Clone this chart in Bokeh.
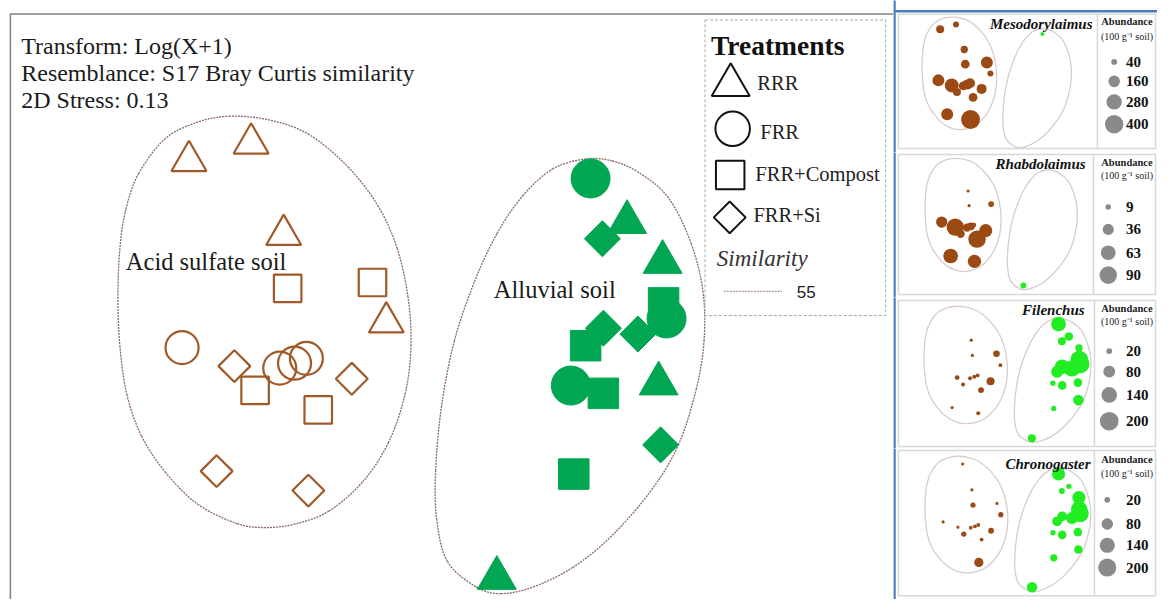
import numpy as np
from bokeh.plotting import figure
from bokeh.models import Range1d
from bokeh.layouts import row, column
from bokeh.core.properties import value
from bokeh.embed import file_html
from bokeh.resources import INLINE

# ---------------- data ----------------
soil = ["Acid sulfate soil"] * 16 + ["Alluvial soil"] * 15
treatment = ["RRR", "RRR", "RRR", "FRR+Compost", "FRR+Compost", "RRR", "FRR", "FRR+Si",
             "FRR", "FRR", "FRR", "FRR+Compost", "FRR+Si", "FRR+Compost", "FRR+Si", "FRR+Si",
             "FRR", "RRR", "FRR+Si", "RRR", "FRR+Compost", "FRR", "FRR+Si", "FRR+Si",
             "FRR+Compost", "FRR", "FRR+Compost", "RRR", "FRR+Si", "FRR+Compost", "RRR"]
nmds1 = [-2.09, -1.46, -1.13, -1.09, -0.23, -0.09, -2.16, -1.63, -1.17, -1.02, -0.90, -1.42,
         -0.44, -0.78, -1.81, -0.88,
         1.98, 2.35, 2.10, 2.71, 2.72, 2.75, 2.11, 2.46, 1.93, 1.78, 2.11, 2.67, 2.69, 1.81, 1.03]
nmds2 = [1.55, 1.73, 0.79, 0.24, 0.30, -0.11, -0.37, -0.56, -0.58, -0.53, -0.48, -0.81,
         -0.69, -1.01, -1.64, -1.84,
         1.37, 0.92, 0.75, 0.51, 0.09, -0.07, -0.17, -0.23, -0.35, -0.76, -0.84, -0.74, -1.37,
         -1.67, -2.74]

# abundance (100 g-1 soil) of four genera per sample
genera = ["Mesodorylaimus", "Rhabdolaimus", "Filenchus", "Chronogaster"]
mesodorylaimus = [75, 42, 63, 89, 170, 42, 170, 230, 90, 118, 118, 75, 118, 90, 170, 420,
                  19, 0, 0, 0, 0, 0, 0, 0, 0, 0, 0, 0, 0, 0, 0]
rhabdolaimus = [0, 0, 3, 3, 10, 0, 37, 88, 20, 18, 6, 20, 50, 88, 63, 52,
                0, 0, 0, 0, 0, 0, 0, 0, 0, 0, 0, 0, 0, 0, 10]
filenchus = [0, 0, 6, 6, 25, 9, 0, 13, 9, 9, 8, 9, 37, 20, 6, 9,
             124, 43, 37, 31, 180, 200, 124, 150, 83, 16, 43, 43, 65, 16, 37]
chronogaster = [0, 6, 6, 17, 6, 17, 6, 6, 9, 9, 9, 17, 21, 9, 0, 52,
                105, 17, 21, 105, 165, 185, 59, 90, 59, 17, 45, 45, 45, 32, 67]
legend_values = [[40, 160, 280, 400], [9, 36, 63, 90], [20, 80, 140, 200], [20, 80, 140, 200]]

# 55 % similarity contours: traced nodes (NMDS units) of the two closed curves
contour_soil = ["Acid sulfate soil", "Alluvial soil"]
acid_contour_x = [-1.67, -2.00, -2.33, -2.60, -2.73, -2.79, -2.81, -2.79, -2.72, -2.57, -2.33,
                  -2.00, -1.60, -1.30, -1.00, -0.67, -0.33, -0.07, 0.10, 0.16, 0.13, 0.02,
                  -0.17, -0.47, -0.87, -1.27]
acid_contour_y = [2.01, 1.95, 1.78, 1.42, 1.05, 0.65, 0.15, -0.35, -0.85, -1.28, -1.65,
                  -1.98, -2.18, -2.22, -2.18, -2.05, -1.75, -1.35, -0.85, -0.35, 0.15, 0.65,
                  1.08, 1.48, 1.82, 1.97]
alluvial_contour_x = [1.93, 1.60, 1.30, 1.03, 0.80, 0.60, 0.47, 0.41, 0.42, 0.53, 0.82, 1.07,
                      1.40, 1.80, 2.20, 2.60, 2.87, 3.05, 3.13, 3.12, 3.00, 2.77, 2.47, 2.20]
alluvial_contour_y = [1.57, 1.47, 1.20, 0.80, 0.30, -0.30, -0.97, -1.63, -2.13, -2.57, -2.83,
                      -2.90, -2.83, -2.63, -2.30, -1.83, -1.37, -0.80, -0.30, 0.20, 0.70, 1.17,
                      1.43, 1.55]
label_x = [-2.73, 1.00]
label_y = [0.52, 0.23]

treatments = ["RRR", "FRR", "FRR+Compost", "FRR+Si"]
text_lines = ["Transform: Log(X+1)", "Resemblance: S17 Bray Curtis similarity", "2D Stress: 0.13"]

# ---------------- styles ----------------
BROWN = "#a05a28"
GREEN = "#00a651"
BUB_BROWN = "#9a4a12"
BUB_GREEN = "#22ec22"
SERIF = value("Liberation Serif")
marker_of = {"RRR": "triangle", "FRR": "circle", "FRR+Compost": "square", "FRR+Si": "square"}
angle_of = {"RRR": 0.0, "FRR": 0.0, "FRR+Compost": 0.0, "FRR+Si": np.pi / 4}
size_hollow = {"RRR": 35, "FRR": 33, "FRR+Compost": 27.5, "FRR+Si": 22.5}
size_filled = {"RRR": 39, "FRR": 39, "FRR+Compost": 30.5, "FRR+Si": 25.5}

REF_W, REF_H = 1173, 616      # reference canvas (pixels)
TOT_W, TOT_H = 1157, 599      # page area
W_MAIN = 893
W_SIDE = TOT_W - W_MAIN
SPLIT = 905                   # reference x where the side column starts


def X(px):  # reference-pixel helper for annotations of the main panel
    return (px - 400) / 100


def Y(py):
    return (320 - py) / 100


def base_fig(w, h, xr, yr):
    return figure(width=w, height=h, x_range=Range1d(*xr), y_range=Range1d(*yr),
                  output_backend="svg", toolbar_location=None, min_border=0,
                  x_axis_type=None, y_axis_type=None, outline_line_color=None,
                  background_fill_color="white", border_fill_color="white")


def txt(p, xs, ys, texts, size, font=SERIF, style="normal", align="left", color="#1a1a1a"):
    p.text(x=xs, y=ys, text=texts, text_font=font, text_font_style=style,
           text_font_size=value(size), text_align=align, text_baseline="middle",
           text_color=color)


def closed_curve(p, xs, ys, **kw):
    """Smooth closed curve through the nodes (Catmull-Rom as cubic Bezier segments)."""
    n = len(xs)
    x0, y0, x1, y1, cx0, cy0, cx1, cy1 = [], [], [], [], [], [], [], []
    for i in range(n):
        a, b, c, d = (i - 1) % n, i, (i + 1) % n, (i + 2) % n
        x0.append(xs[b]); y0.append(ys[b]); x1.append(xs[c]); y1.append(ys[c])
        cx0.append(xs[b] + (xs[c] - xs[a]) / 6); cy0.append(ys[b] + (ys[c] - ys[a]) / 6)
        cx1.append(xs[c] - (xs[d] - xs[b]) / 6); cy1.append(ys[c] - (ys[d] - ys[b]) / 6)
    p.bezier(x0=x0, y0=y0, x1=x1, y1=y1, cx0=cx0, cy0=cy0, cx1=cx1, cy1=cy1, **kw)


contours = [(acid_contour_x, acid_contour_y), (alluvial_contour_x, alluvial_contour_y)]

# ---------------- main ordination ----------------
main = base_fig(W_MAIN, TOT_H, (X(0), X(SPLIT)), (Y(REF_H), Y(0)))

main.line(x=[X(10), X(10), X(906)], y=[Y(700), Y(14), Y(14)], line_color="#808080", line_width=1.5)

for cx, cy in contours:
    closed_curve(main, cx, cy, line_color="#8a6868", line_dash="2 1", line_width=1.3)

for t in treatments:
    for s in contour_soil:
        idx = [i for i in range(len(nmds1)) if treatment[i] == t and soil[i] == s]
        xs = [nmds1[i] for i in idx]
        ys = [nmds2[i] for i in idx]
        if s == "Acid sulfate soil":
            main.scatter(x=xs, y=ys, marker=marker_of[t], angle=angle_of[t], size=size_hollow[t],
                         fill_color=None, line_color=BROWN, line_width=2.2)
        else:
            main.scatter(x=xs, y=ys, marker=marker_of[t], angle=angle_of[t], size=size_filled[t],
                         fill_color=GREEN, line_color=GREEN, line_width=1)

txt(main, [X(21)] * 3, [Y(47), Y(75), Y(102)], text_lines, "24px")
txt(main, label_x, label_y, contour_soil, "24.5px")

# legend
main.quad(left=[X(714)], right=[X(897)], top=[Y(20)], bottom=[Y(324)], fill_color="white",
          line_color="#a8a8a8", line_dash="3 2", line_width=1)
txt(main, [X(720)], [Y(46)], ["Treatments"], "27.5px", style="bold", color="#111111")
leg_mx = [X(740), X(742), X(739.5), X(739)]
leg_my = [Y(87), Y(132), Y(179.5), Y(223)]
leg_sz = [38, 34.5, 28.5, 22.5]
for t, mx, my, sz in zip(treatments, leg_mx, leg_my, leg_sz):
    main.scatter(x=[mx], y=[my], marker=marker_of[t], angle=angle_of[t], size=sz,
                 fill_color=None, line_color="#111111", line_width=2)
txt(main, [X(767), X(770), X(765), X(763)], [Y(85), Y(135), Y(178), Y(221)], treatments,
    "20.5px", color="#222222")
txt(main, [X(726)], [Y(265)], ["Similarity"], "23px", style="italic", color="#333333")
main.line(x=[X(733), X(792)], y=[Y(299), Y(299)], line_color="#9b7a7a", line_dash="2 1", line_width=1.2)
txt(main, [X(807)], [Y(300)], ["55"], "17px", font=value("Liberation Sans"), color="#222222")

# ---------------- bubble panels ----------------
XMIN = min(acid_contour_x)
YMAX = max(acid_contour_y)
ref_spans = [(0, 156), (156, 305), (305, 460), (460, 616)]
panel_h = [152, 145, 151, 151]
# x offset of left contour from column start, px per unit x, y offset from span top, px per unit y
panel_geo = [(29, 25.5, 17, 27.3), (32, 26.0, 6, 27.5), (31, 28.5, 9, 28.5), (32, 28.3, 8, 28.5)]
box_y = [(14, 152), (158, 302), (308, 458), (462, 612)]
divider_x = [1112, 1108, 1109, 1109]
title_mid = [24, 168, 318, 476]
title_end = [1107, 1100, 1099, 1105]
head_mid = [(21.5, 36.5), (166.5, 179.5), (316.5, 329.5), (471.5, 485.5)]
leg_rows = [[63, 83, 104, 127], [212, 235, 259, 282], [360, 381, 405, 432], [513, 538, 560, 583]]
leg_cx = [1129, 1123, 1124, 1122]
bubble_k = [0.92, 1.85, 1.32, 1.28]
abund_all = [mesodorylaimus, rhabdolaimus, filenchus, chronogaster]

panels = []
for i in range(4):
    xoff, sx, yoff, sy = panel_geo[i]
    rt, rb = ref_spans[i]
    x0 = XMIN - xoff / sx
    x1 = x0 + (REF_W - SPLIT) / sx
    y1 = YMAX + yoff / sy
    y0 = y1 - (rb - rt) / sy
    p = base_fig(W_SIDE, panel_h[i], (x0, x1), (y0, y1))

    def lx(v, x0=x0, sx=sx):
        return x0 + (v - SPLIT) / sx

    def ly(v, y1=y1, sy=sy, rt=rt):
        return y1 - (v - rt) / sy

    bt, bb = box_y[i]
    p.line(x=[lx(SPLIT + 1), lx(SPLIT + 1)], y=[ly(rt - 5), ly(rb + 5)], line_color="#4a7ebb", line_width=2.5)
    if i == 0:
        p.line(x=[lx(SPLIT), lx(REF_W + 5)], y=[ly(11), ly(11)], line_color="#4a7ebb", line_width=2.5)
    p.quad(left=[lx(910)], right=[lx(1171)], top=[ly(bt)], bottom=[ly(bb)], fill_color=None,
           line_color="#d8d8d8", line_width=1.5)
    p.line(x=[lx(divider_x[i])] * 2, y=[ly(bt), ly(bb)], line_color="#d8d8d8", line_width=1.5)
    for cx, cy in contours:
        closed_curve(p, cx, cy, line_color="#dacbcb", line_width=1.3)

    ab = abund_all[i]
    k = bubble_k[i]
    idx = [j for j in range(len(ab)) if ab[j] > 0]
    p.scatter(x=[nmds1[j] for j in idx], y=[nmds2[j] for j in idx],
              size=[k * np.sqrt(ab[j]) for j in idx], marker="circle",
              fill_color=[BUB_BROWN if soil[j] == "Acid sulfate soil" else BUB_GREEN for j in idx],
              line_color=None)

    txt(p, [lx(title_end[i])], [ly(title_mid[i])], [genera[i]], "15px", style="bold italic",
        align="right", color="#111111")
    txt(p, [lx(1142)], [ly(head_mid[i][0])], ["Abundance"], "10.5px", style="bold",
        align="center", color="#222222")
    txt(p, [lx(1142)], [ly(head_mid[i][1])], ["(100 g\u207b\u00b9 soil)"], "10px",
        align="center", color="#222222")
    lv = legend_values[i]
    p.scatter(x=[lx(leg_cx[i])] * 4, y=[ly(r) for r in leg_rows[i]],
              size=[k * np.sqrt(v) for v in lv], marker="circle", fill_color="#8a8a8a", line_color=None)
    txt(p, [lx(1141)] * 4, [ly(r) for r in leg_rows[i]], [str(v) for v in lv], "15px",
        style="bold", color="#111111")
    panels.append(p)

layout = row(main, column(*panels, spacing=0), spacing=0)
open("out.html", "w").write(file_html(layout, INLINE))
